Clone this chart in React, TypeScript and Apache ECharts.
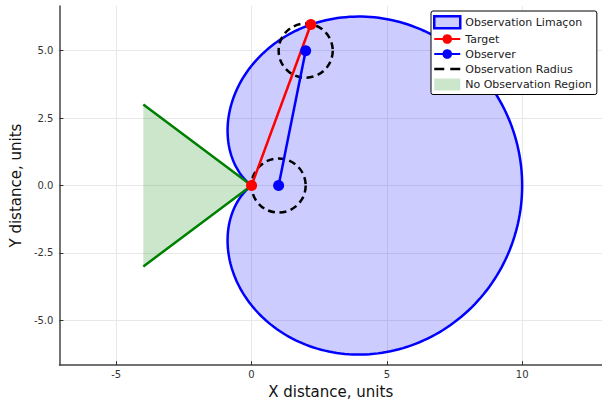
import React, { useEffect, useRef } from "react";
import * as echarts from "echarts";

// ---- data ----
const xRange = [-7.1, 12.95];
const yRange = [-6.655, 6.655];
const xTicks = [-5, 0, 5, 10];
const yTicks = [-5, -2.5, 0, 2.5, 5];

// Limaçon r = b + a*cos(theta), pole at the target's start point (origin)
const limaconB = 4.44;
const limaconA = 5.56;
const limaconThetaLimitDeg = 143.1; // where r reaches 0 (inner loop not drawn)

const targetX = [0, 2.19];
const targetY = [0, 5.97];
const observerX = [1, 2];
const observerY = [0, 5];

const radiusCentersX = [1, 2];
const radiusCentersY = [0, 5];
const radiusValues = [1, 1];

const noObsX = [-4, 0, -4];
const noObsY = [3, 0, -3];

const FONT = "DejaVu Sans";

function buildLimacon(): number[][] {
  const pts: number[][] = [];
  for (let d = -limaconThetaLimitDeg; d <= limaconThetaLimitDeg + 1e-9; d += 1) {
    const t = (d * Math.PI) / 180;
    const r = limaconB + limaconA * Math.cos(t);
    pts.push([r * Math.cos(t), r * Math.sin(t)]);
  }
  return pts;
}

export default function App() {
  const ref = useRef<HTMLDivElement>(null);

  useEffect(() => {
    if (!ref.current) return;
    const chart = echarts.init(ref.current, null, { renderer: "svg" });

    const limacon = buildLimacon();
    const wedge = noObsX.map((x, i) => [x, noObsY[i]]);
    const targetData = targetX.map((x, i) => [x, targetY[i]]);
    const observerData = observerX.map((x, i) => [x, observerY[i]]);
    const circles = radiusCentersX.map((x, i) => [x, radiusCentersY[i], radiusValues[i]]);

    const axisCommon = {
      type: "value" as const,
      axisLine: { show: true, onZero: false, lineStyle: { color: "#444", width: 1.5 } },
      axisTick: { show: true, inside: true, length: 4, lineStyle: { color: "#333", width: 1 } },
      splitLine: { show: true, lineStyle: { color: "#e8e8e8", width: 1 } },
      nameLocation: "middle" as const,
      nameTextStyle: { fontSize: 15, fontFamily: FONT, color: "#111" },
    };

    chart.setOption({
      animation: false,
      backgroundColor: "#fff",
      grid: { left: 59, top: 6, right: 0, bottom: 37, containLabel: false },
      xAxis: {
        ...axisCommon,
        min: xRange[0],
        max: xRange[1],
        name: "X distance, units",
        nameGap: 17,
        axisTick: { ...axisCommon.axisTick, customValues: xTicks },
        axisLabel: {
          customValues: xTicks,
          fontSize: 10,
          fontFamily: FONT,
          color: "#333",
          margin: 4,
          formatter: (v: number) => String(v),
        },
      },
      yAxis: {
        ...axisCommon,
        min: yRange[0],
        max: yRange[1],
        name: "Y distance, units",
        nameGap: 35,
        axisTick: { ...axisCommon.axisTick, customValues: yTicks },
        axisLabel: {
          customValues: yTicks,
          fontSize: 10,
          fontFamily: FONT,
          color: "#333",
          margin: 6,
          formatter: (v: number) => v.toFixed(1),
        },
      },
      legend: {
        orient: "vertical",
        left: 431,
        top: 11,
        itemWidth: 26,
        itemHeight: 12,
        itemGap: 4,
        padding: [4, 5, 4, 2],
        backgroundColor: "#fff",
        borderColor: "#000",
        borderWidth: 1,
        borderRadius: 2,
        textStyle: { fontSize: 11, fontFamily: FONT, color: "#222" },
        data: [
          {
            name: "Observation Limaçon",
            icon: "rect",
            itemStyle: { color: "rgba(0,0,255,0.2)", borderColor: "#0000ff", borderWidth: 2.5 },
          },
          { name: "Target" },
          { name: "Observer" },
          {
            name: "Observation Radius",
            icon: "path://M0,0h10v2.6h-10z M16,0h10v2.6h-10z",
            itemStyle: { color: "#000", borderWidth: 0 },
          },
          {
            name: "No Observation Region",
            icon: "rect",
            itemStyle: { color: "rgba(0,128,0,0.2)", borderWidth: 0 },
          },
        ],
      },
      series: [
        {
          name: "Observation Limaçon",
          type: "custom",
          data: limacon,
          encode: { x: 0, y: 1 },
          itemStyle: { color: "rgba(0,0,255,0.2)" },
          z: 1,
          renderItem: (params: any, api: any) => {
            if (params.dataIndex !== 0) return null;
            const pts = limacon.map((p) => api.coord(p));
            return {
              type: "polygon",
              shape: { points: pts },
              style: { fill: "rgba(0,0,255,0.2)", stroke: "#0000ff", lineWidth: 2.5 },
            };
          },
        },
        {
          name: "No Observation Region",
          type: "custom",
          data: wedge,
          encode: { x: 0, y: 1 },
          itemStyle: { color: "rgba(0,128,0,0.2)" },
          z: 2,
          renderItem: (params: any, api: any) => {
            if (params.dataIndex !== 0) return null;
            const pts = wedge.map((p) => api.coord(p));
            return {
              type: "polygon",
              shape: { points: pts },
              style: { fill: "rgba(0,128,0,0.2)", stroke: "none" },
            };
          },
        },
        {
          name: "wedge-edges",
          type: "line",
          data: wedge,
          symbol: "none",
          lineStyle: { color: "#008000", width: 2.5 },
          z: 3,
        },
        {
          name: "Observation Radius",
          type: "custom",
          data: circles,
          encode: { x: 0, y: 1 },
          itemStyle: { color: "#000" },
          z: 4,
          renderItem: (params: any, api: any) => {
            const c = api.coord([api.value(0), api.value(1)]);
            const r = api.size([api.value(2), 0])[0];
            return {
              type: "circle",
              shape: { cx: c[0], cy: c[1], r },
              style: { fill: "none", stroke: "#000", lineWidth: 2.5, lineDash: [7, 4.5] },
            };
          },
        },
        {
          name: "Target",
          type: "line",
          data: targetData,
          symbol: "circle",
          symbolSize: 11,
          itemStyle: { color: "#ff0000" },
          lineStyle: { color: "#ff0000", width: 2.5 },
          z: 5,
        },
        {
          name: "Observer",
          type: "line",
          data: observerData,
          symbol: "circle",
          symbolSize: 11,
          itemStyle: { color: "#0000ff" },
          lineStyle: { color: "#0000ff", width: 2.5 },
          z: 6,
        },
      ],
    });

    return () => chart.dispose();
  }, []);

  return (
    <div
      ref={ref}
      style={{ position: "fixed", left: 0, top: 0, width: 602, height: 404, background: "#fff" }}
    />
  );
}
